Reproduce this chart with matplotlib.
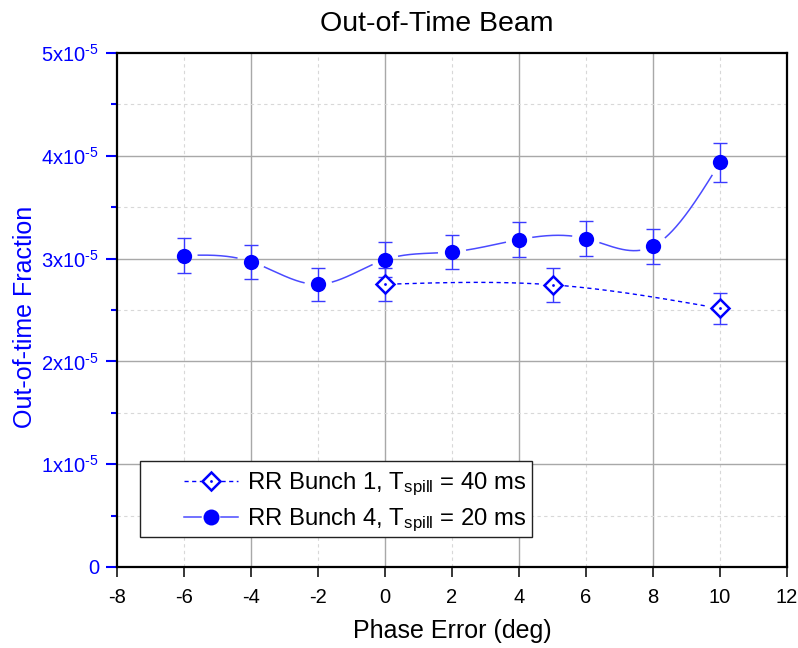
import numpy as np
import matplotlib
matplotlib.use("Agg")
import matplotlib.pyplot as plt
from matplotlib.lines import Line2D
from matplotlib.patches import Rectangle
from matplotlib.legend_handler import HandlerBase
from matplotlib.ticker import FuncFormatter, MultipleLocator

plt.rcParams['font.family'] = ['Liberation Sans', 'DejaVu Sans']
plt.rcParams['mathtext.fontset'] = 'custom'
plt.rcParams['mathtext.rm'] = 'Liberation Sans'
plt.rcParams['mathtext.it'] = 'Liberation Sans:italic'
plt.rcParams['mathtext.bf'] = 'Liberation Sans:bold'
plt.rcParams['mathtext.default'] = 'regular'
plt.rcParams['axes.unicode_minus'] = False

# ---- data ----
phase_b1 = [0, 5, 10]
frac_b1 = [2.75e-5, 2.745e-5, 2.515e-5]
err_b1 = [0.162e-5, 0.163e-5, 0.155e-5]

phase_b4 = [-6, -4, -2, 0, 2, 4, 6, 8, 10]
frac_b4 = [3.03e-5, 2.97e-5, 2.75e-5, 2.99e-5, 3.065e-5, 3.185e-5, 3.195e-5, 3.12e-5, 3.935e-5]
err_b4 = [0.167e-5, 0.167e-5, 0.16e-5, 0.167e-5, 0.167e-5, 0.17e-5, 0.17e-5, 0.17e-5, 0.19e-5]

label_b1 = 'RR Bunch 1, T$_{spill}$ = 40 ms'
label_b4 = 'RR Bunch 4, T$_{spill}$ = 20 ms'
title = 'Out-of-Time Beam'
xlabel = 'Phase Error (deg)'
ylabel = 'Out-of-time Fraction'
xticks = [-8, -6, -4, -2, 0, 2, 4, 6, 8, 10, 12]

BLUE = '#0000ff'
LINE_BLUE = '#4a4aff'
ERR_BLUE = '#3a3aff'


def natural_spline(x, y, xs):
    x = np.asarray(x, float)
    y = np.asarray(y, float)
    n = len(x)
    h = np.diff(x)
    M = np.zeros(n)
    if n > 2:
        A = np.zeros((n - 2, n - 2))
        r = np.zeros(n - 2)
        for i in range(1, n - 1):
            A[i - 1, i - 1] = 2 * (h[i - 1] + h[i])
            if i - 2 >= 0:
                A[i - 1, i - 2] = h[i - 1]
            if i < n - 2:
                A[i - 1, i] = h[i]
            r[i - 1] = 6 * ((y[i + 1] - y[i]) / h[i] - (y[i] - y[i - 1]) / h[i - 1])
        M[1:-1] = np.linalg.solve(A, r)
    out = np.empty_like(xs)
    for k, xv in enumerate(xs):
        i = min(max(np.searchsorted(x, xv) - 1, 0), n - 2)
        t1 = x[i + 1] - xv
        t0 = xv - x[i]
        out[k] = (M[i] * t1 ** 3 / (6 * h[i]) + M[i + 1] * t0 ** 3 / (6 * h[i])
                  + (y[i] / h[i] - M[i] * h[i] / 6) * t1
                  + (y[i + 1] / h[i] - M[i + 1] * h[i] / 6) * t0)
    return out


fig = plt.figure(figsize=(7.98, 6.48), dpi=100)
ax = fig.add_axes([117 / 798, 81 / 648, 670 / 798, 514 / 648])
ax.set_xlim(-8, 12)
ax.set_ylim(0, 5e-5)

# grid
for gx in [-4, 0, 4, 8]:
    ax.axvline(gx, color='#a8a8a8', lw=1.0, zorder=0)
for gx in [-6, -2, 2, 6, 10]:
    ax.axvline(gx, color='#d8d8d8', lw=0.8, ls=(0, (3, 3)), zorder=0)
for gy in [1e-5, 2e-5, 3e-5, 4e-5]:
    ax.axhline(gy, color='#a8a8a8', lw=1.0, zorder=0)
for gy in [0.5e-5, 1.5e-5, 2.5e-5, 3.5e-5, 4.5e-5]:
    ax.axhline(gy, color='#d8d8d8', lw=0.8, ls=(0, (3, 3)), zorder=0)


def gapped_curve(xd, yd, gap_px):
    xs = np.linspace(min(xd), max(xd), 600)
    ys = natural_spline(xd, yd, xs)
    pts = ax.transData.transform(np.column_stack([xs, ys]))
    mk = ax.transData.transform(np.column_stack([xd, yd]))
    d = np.min(np.hypot(pts[:, None, 0] - mk[None, :, 0], pts[:, None, 1] - mk[None, :, 1]), axis=1)
    ys = ys.copy()
    ys[d < gap_px] = np.nan
    return xs, ys


DASH = (0, (3, 2.5))

# series B1 (open diamonds, dashed)
xs1, ys1 = gapped_curve(phase_b1, frac_b1, 12)
ax.plot(xs1, ys1, color=BLUE, lw=1.0, ls=DASH, zorder=2)
ax.errorbar(phase_b1, frac_b1, yerr=err_b1, fmt='none', ecolor=ERR_BLUE,
            elinewidth=1.0, capsize=5, capthick=1.0, zorder=3)
ax.plot(phase_b1, frac_b1, ls='none', marker='D', ms=9, mfc='white', mec=BLUE, mew=1.8, zorder=4)
ax.plot(phase_b1, frac_b1, ls='none', marker='o', ms=2, mfc=BLUE, mec=BLUE, mew=0, zorder=5)

# series B4 (filled circles, solid)
xs2, ys2 = gapped_curve(phase_b4, frac_b4, 14)
ax.plot(xs2, ys2, color=LINE_BLUE, lw=1.1, zorder=2)
ax.errorbar(phase_b4, frac_b4, yerr=err_b4, fmt='none', ecolor=ERR_BLUE,
            elinewidth=1.0, capsize=5, capthick=1.0, zorder=3)
ax.plot(phase_b4, frac_b4, ls='none', marker='o', ms=11, mfc=BLUE, mec=BLUE, mew=0, zorder=4)

# axes styling
for s in ax.spines.values():
    s.set_linewidth(1.6)
    s.set_color('black')
ax.set_xticks(xticks)
ax.set_xticklabels([str(t) for t in xticks])
ax.tick_params(axis='x', direction='out', length=7, width=1.1, colors='black',
               labelsize=14.5, pad=8)
ax.yaxis.set_major_locator(MultipleLocator(1e-5))
ax.yaxis.set_minor_locator(MultipleLocator(0.5e-5))


def yfmt(v, pos):
    k = int(round(v / 1e-5))
    if k == 0:
        return '0'
    return '%dx10$^{\u2010 5}$' % k


ax.yaxis.set_major_formatter(FuncFormatter(yfmt))
ax.tick_params(axis='y', which='major', direction='out', length=8, width=1.5,
               colors=BLUE, labelsize=14.5, pad=5)
ax.tick_params(axis='y', which='minor', direction='out', length=4.3, width=1.5, colors=BLUE)

fig.text(437 / 798, 1 - 31 / 648, title, ha='center', va='baseline', fontsize=20.5, color='black')
fig.text(452 / 798, 1 - 638 / 648, xlabel, ha='center', va='baseline', fontsize=18, color='black')
fig.text(25 / 798, 1 - 317 / 648, ylabel, ha='center', va='center', rotation=90,
         fontsize=18, color=BLUE)

# legend box
rect = Rectangle((23 / 670, 30 / 514), 392 / 670, 76 / 514, transform=ax.transAxes,
                 facecolor='white', edgecolor='#222222', lw=1.0, zorder=8)
ax.add_patch(rect)


class GapHandler(HandlerBase):
    def __init__(self, line_kw, marker_kws, gap):
        super().__init__()
        self.line_kw = line_kw
        self.marker_kws = marker_kws
        self.gap = gap

    def create_artists(self, legend, orig_handle, xdescent, ydescent, width, height,
                       fontsize, trans):
        y = height / 2 - ydescent
        x0 = -xdescent
        x1 = x0 + width
        xc = (x0 + x1) / 2
        arts = [Line2D([x0, xc - self.gap], [y, y], **self.line_kw),
                Line2D([xc + self.gap, x1], [y, y], **self.line_kw)]
        for mkw in self.marker_kws:
            arts.append(Line2D([xc], [y], ls='none', **mkw))
        for a in arts:
            a.set_transform(trans)
        return arts


h1 = Line2D([], [])
h2 = Line2D([], [])
hmap = {
    h1: GapHandler(dict(color=BLUE, lw=1.0, ls=DASH),
                   [dict(marker='D', ms=9, mfc='white', mec=BLUE, mew=1.8),
                    dict(marker='o', ms=2, mfc=BLUE, mec=BLUE, mew=0)], gap=7.5),
    h2: GapHandler(dict(color=LINE_BLUE, lw=1.1),
                   [dict(marker='o', ms=11.5, mfc=BLUE, mec=BLUE, mew=0)], gap=7.5),
}

leg = ax.legend([h1, h2], [label_b1, label_b4], handler_map=hmap,
                loc='center left', bbox_to_anchor=(67 / 670, (567 - 502.5) / 514),
                frameon=False, fontsize=17.2, borderpad=0, borderaxespad=0,
                handlelength=2.26, handletextpad=0.38, labelspacing=0.36)
leg.set_zorder(9)

fig.savefig('out.png', dpi=100)
